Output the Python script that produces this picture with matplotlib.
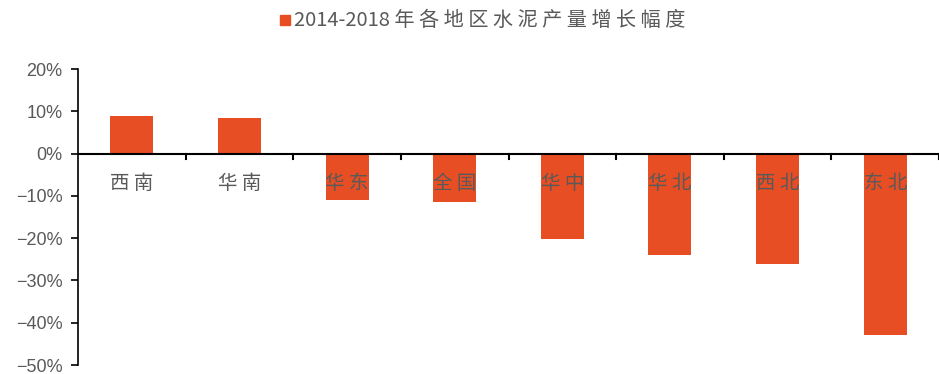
import matplotlib
matplotlib.use("Agg")
import matplotlib.pyplot as plt

categories = ["西南", "华南", "华东", "全国", "华中", "华北", "西北", "东北"]
values = [8.8, 8.5, -10.9, -11.4, -20.1, -24.1, -26.1, -42.9]
yticks = [20, 10, 0, -10, -20, -30, -40, -50]
series_name = "2014-2018年各地区水泥产量增长幅度"

plt.rcParams['font.family'] = ['Noto Sans CJK SC', 'DejaVu Sans']
color = "#E84E23"
grey = "#595959"


def spaced(s):
    # add a small gap between CJK characters, like the reference
    out = ""
    for i, ch in enumerate(s):
        out += ch
        if i + 1 < len(s) and (ord(ch) > 0x2E80 or ord(s[i + 1]) > 0x2E80):
            out += " "
    return out


fig = plt.figure(figsize=(9.39, 3.74), dpi=100)
ax = fig.add_axes([78/939, 9/374, 1 - 78/939, (365-69)/374])

x = list(range(len(categories)))
bars = ax.bar(x, values, width=0.4, color=color, label=series_name, zorder=2)

ax.set_ylim(-50, 20)
ax.set_xlim(-0.5, len(categories) - 0.5)
ax.set_yticks(yticks)
ax.set_yticklabels([f"{v}%".replace("-", "\u2212") for v in yticks],
                   family=['Liberation Sans', 'DejaVu Sans'], fontsize=13, color=grey)
ax.tick_params(axis='y', direction='out', length=5, width=1.2, color='black', pad=6)

for s in ['top', 'right', 'bottom']:
    ax.spines[s].set_visible(False)
ax.spines['left'].set_linewidth(1.2)

ax.axhline(0, color='black', lw=1.5, zorder=3)
ax.set_xticks([])
for b in [i + 0.5 for i in range(len(categories))]:
    ax.plot([b, b], [0, -1.2], color='black', lw=1.5, zorder=3, clip_on=False)
for xi, c in zip(x, categories):
    ax.text(xi, -7.1, spaced(c), ha='center', va='center', fontsize=14, color=grey, zorder=4)

# legend drawn as a square marker plus text at the top
fig.patches.append(plt.Rectangle((280/939, 1 - 25/374), 10/939, 10/374,
                                 transform=fig.transFigure, color=color, figure=fig))
fig.text(294/939, 1 - 20/374, spaced(series_name), ha='left', va='center',
         fontsize=14.5, color=grey)

fig.savefig("out.png", dpi=100)
